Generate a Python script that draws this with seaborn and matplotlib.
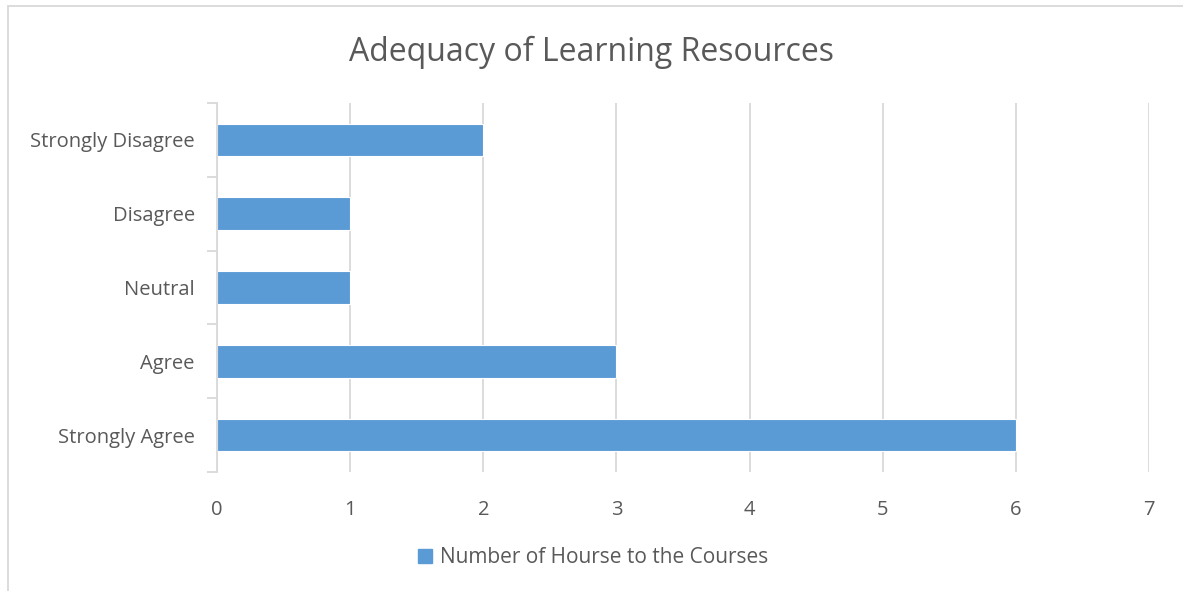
import seaborn as sns
import matplotlib.pyplot as plt
import pandas as pd
from matplotlib.lines import Line2D

categories = ["Strongly Disagree", "Disagree", "Neutral", "Agree", "Strongly Agree"]
hours = [2, 1, 1, 3, 6]
series_name = "Number of Hourse to the Courses"
x_ticks = [0, 1, 2, 3, 4, 5, 6, 7]

df = pd.DataFrame({"Response": categories, "Hours": hours})

sns.set_theme(style="white")
plt.rcParams['font.family'] = ['Open Sans', 'DejaVu Sans']

text_col = "#595959"
grid_col = "#d9d9d9"
bar_col = "#5b9bd5"

fig = plt.figure(figsize=(11.83, 5.91), dpi=100)
ax = fig.add_axes([0.1834, 0.2014, 0.7879, 0.6243])

sns.barplot(data=df, y="Response", x="Hours", color=bar_col, width=0.44,
            edgecolor="white", linewidth=0.8, saturation=1, ax=ax)

ax.set_xlim(0, 7)
ax.set_ylim(4.5, -0.5)
ax.set_xticks(x_ticks)
ax.set_xticklabels([str(t) for t in x_ticks])
ax.xaxis.grid(True, color=grid_col, linewidth=1.3)
ax.set_axisbelow(True)
ax.tick_params(axis="x", length=0, pad=20, labelsize=14.5, labelcolor=text_col)
ax.tick_params(axis="y", which="major", length=0, pad=16, labelsize=14.5, labelcolor=text_col)
ax.set_yticks([i - 0.5 for i in range(len(categories) + 1)], minor=True)
ax.tick_params(axis="y", which="minor", left=True, length=7, width=1.3, color=grid_col)
ax.set_xlabel("")
ax.set_ylabel("")

for s in ["top", "right", "bottom"]:
    ax.spines[s].set_visible(False)
ax.spines["left"].set_color(grid_col)
ax.spines["left"].set_linewidth(1.3)

fig.text(0.5, 0.912, "Adequacy of Learning Resources", ha="center", va="center",
         fontsize=23, color=text_col)

handle = Line2D([], [], marker="s", linestyle="none", markersize=10,
                markerfacecolor=bar_col, markeredgecolor=bar_col)
fig.legend([handle], [series_name], loc="center", bbox_to_anchor=(0.5, 0.057),
           frameon=False, fontsize=15, labelcolor=text_col,
           handletextpad=0.2, handlelength=1.0)

# outer chart border
fig.add_artist(Line2D([8 / 1183, 1], [1 - 6 / 591, 1 - 6 / 591], color=grid_col,
                      linewidth=1.3, transform=fig.transFigure))
fig.add_artist(Line2D([8 / 1183, 8 / 1183], [0, 1 - 6 / 591], color=grid_col,
                      linewidth=1.3, transform=fig.transFigure))

fig.savefig("out.png", dpi=100)
